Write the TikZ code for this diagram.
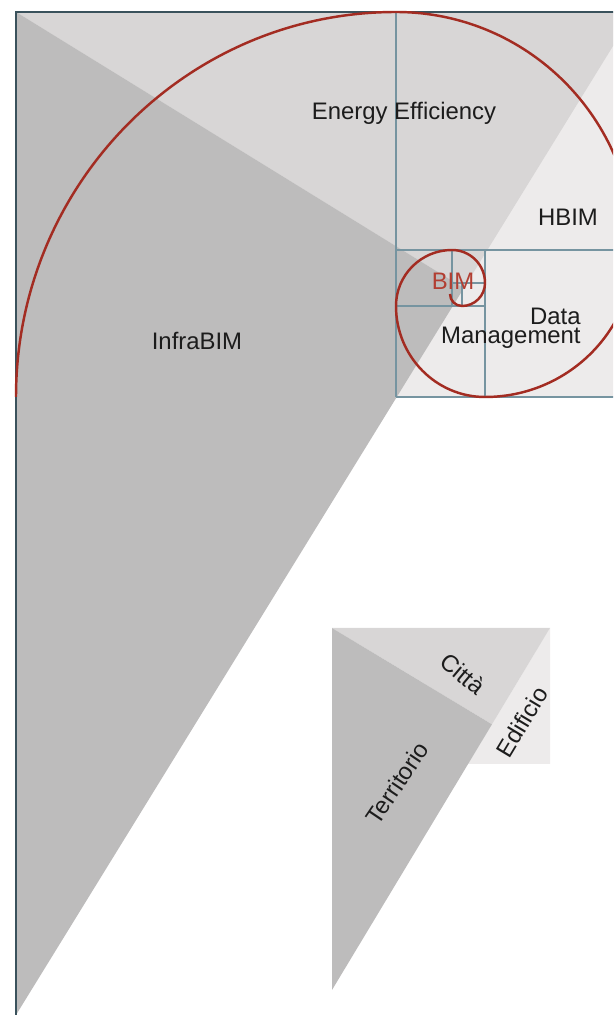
\documentclass[tikz,border=0pt]{standalone}
\usepackage{fontspec}
\setmainfont{Liberation Sans}
\usepackage{xcolor}
\usepackage{tikz}
\usetikzlibrary{calc}

\definecolor{darkfill}{RGB}{189,188,188}
\definecolor{midfill}{RGB}{216,214,214}
\definecolor{lightfill}{RGB}{237,235,235}
\definecolor{spiralred}{RGB}{163,44,34}
\definecolor{bimred}{RGB}{178,62,50}
\definecolor{gridblue}{RGB}{118,148,160}
\definecolor{framedark}{RGB}{58,82,92}
\definecolor{inkgray}{RGB}{28,28,28}

\begin{document}
\begin{tikzpicture}[x=0.02cm, y=0.02cm,
    txt/.style={font=\fontsize{13.6}{16}\selectfont, text=inkgray, inner sep=0pt},
    gridline/.style={draw=gridblue, line width=0.6pt},
    spiral/.style={draw=spiralred, line width=1.4pt}]
    \useasboundingbox (0,0) rectangle (613,1018);
    \clip (0,0) rectangle (613,1018);

    % main triangle
    \coordinate (tl) at (16,1006);
    \coordinate (bl) at (16,3);
    \coordinate (tr) at (634,1006);
    \coordinate (p) at ($(bl)!(tl)!(tr)$);

    \fill[lightfill] (16,621) rectangle (634,1006);
    \fill[midfill] (tl) -- (tr) -- (p) -- cycle;
    \fill[darkfill] (tl) -- (bl) -- (p) -- cycle;

    % squares of the spiral
    \draw[gridline] (396,621) -- (396,1006);
    \draw[gridline] (396,768) -- (634,768);
    \draw[gridline] (396,621) -- (634,621);
    \draw[gridline] (485,621) -- (485,768);
    \draw[gridline] (396,712) -- (485,712);
    \draw[gridline] (452,712) -- (452,768);
    \draw[gridline] (452,735) -- (485,735);
    \draw[gridline] (462,712) -- (462,735);

    % frame
    \draw[framedark, line width=0.9pt] (bl) -- (tl) -- (tr);

    % golden spiral
    \draw[spiral] (16,621)
        arc[start angle=180, end angle=90, x radius=380, y radius=385]
        arc[start angle=90, end angle=0, radius=238]
        arc[start angle=0, end angle=-90, x radius=149, y radius=147]
        arc[start angle=-90, end angle=-180, x radius=89, y radius=91]
        arc[start angle=180, end angle=90, radius=56]
        arc[start angle=90, end angle=0, radius=33]
        arc[start angle=0, end angle=-90, radius=23]
        arc[start angle=-90, end angle=-180, radius=12];

    \node (energy) [txt] at (404,905) {Energy Efficiency};
    \node (hbim) [txt] at (568,801) {HBIM};
    \node (infra) [txt] at (197,677) {InfraBIM};
    \node (data) [txt, align=right, anchor=east] at (581,690) {Data\\[-5.4pt]Management};
    \node (bim) [txt, text=bimred] at (453,737) {BIM};

    % small copy
    \coordinate (stl) at (332,390);
    \coordinate (sbl) at (332,28);
    \coordinate (str) at (550,390);
    \coordinate (sp) at ($(sbl)!(stl)!(str)$);

    \fill[lightfill] (str) -- (550,254) -- (468,254) -- cycle;
    \fill[midfill] (stl) -- (str) -- (sp) -- cycle;
    \fill[darkfill] (stl) -- (sbl) -- (sp) -- cycle;

    \node (citta) [txt, rotate=-40] at (463,344) {Città};
    \node (edificio) [txt, rotate=59] at (522,296) {Edificio};
    \node (territorio) [txt, rotate=56] at (397,235) {Territorio};
\end{tikzpicture}
\end{document}
